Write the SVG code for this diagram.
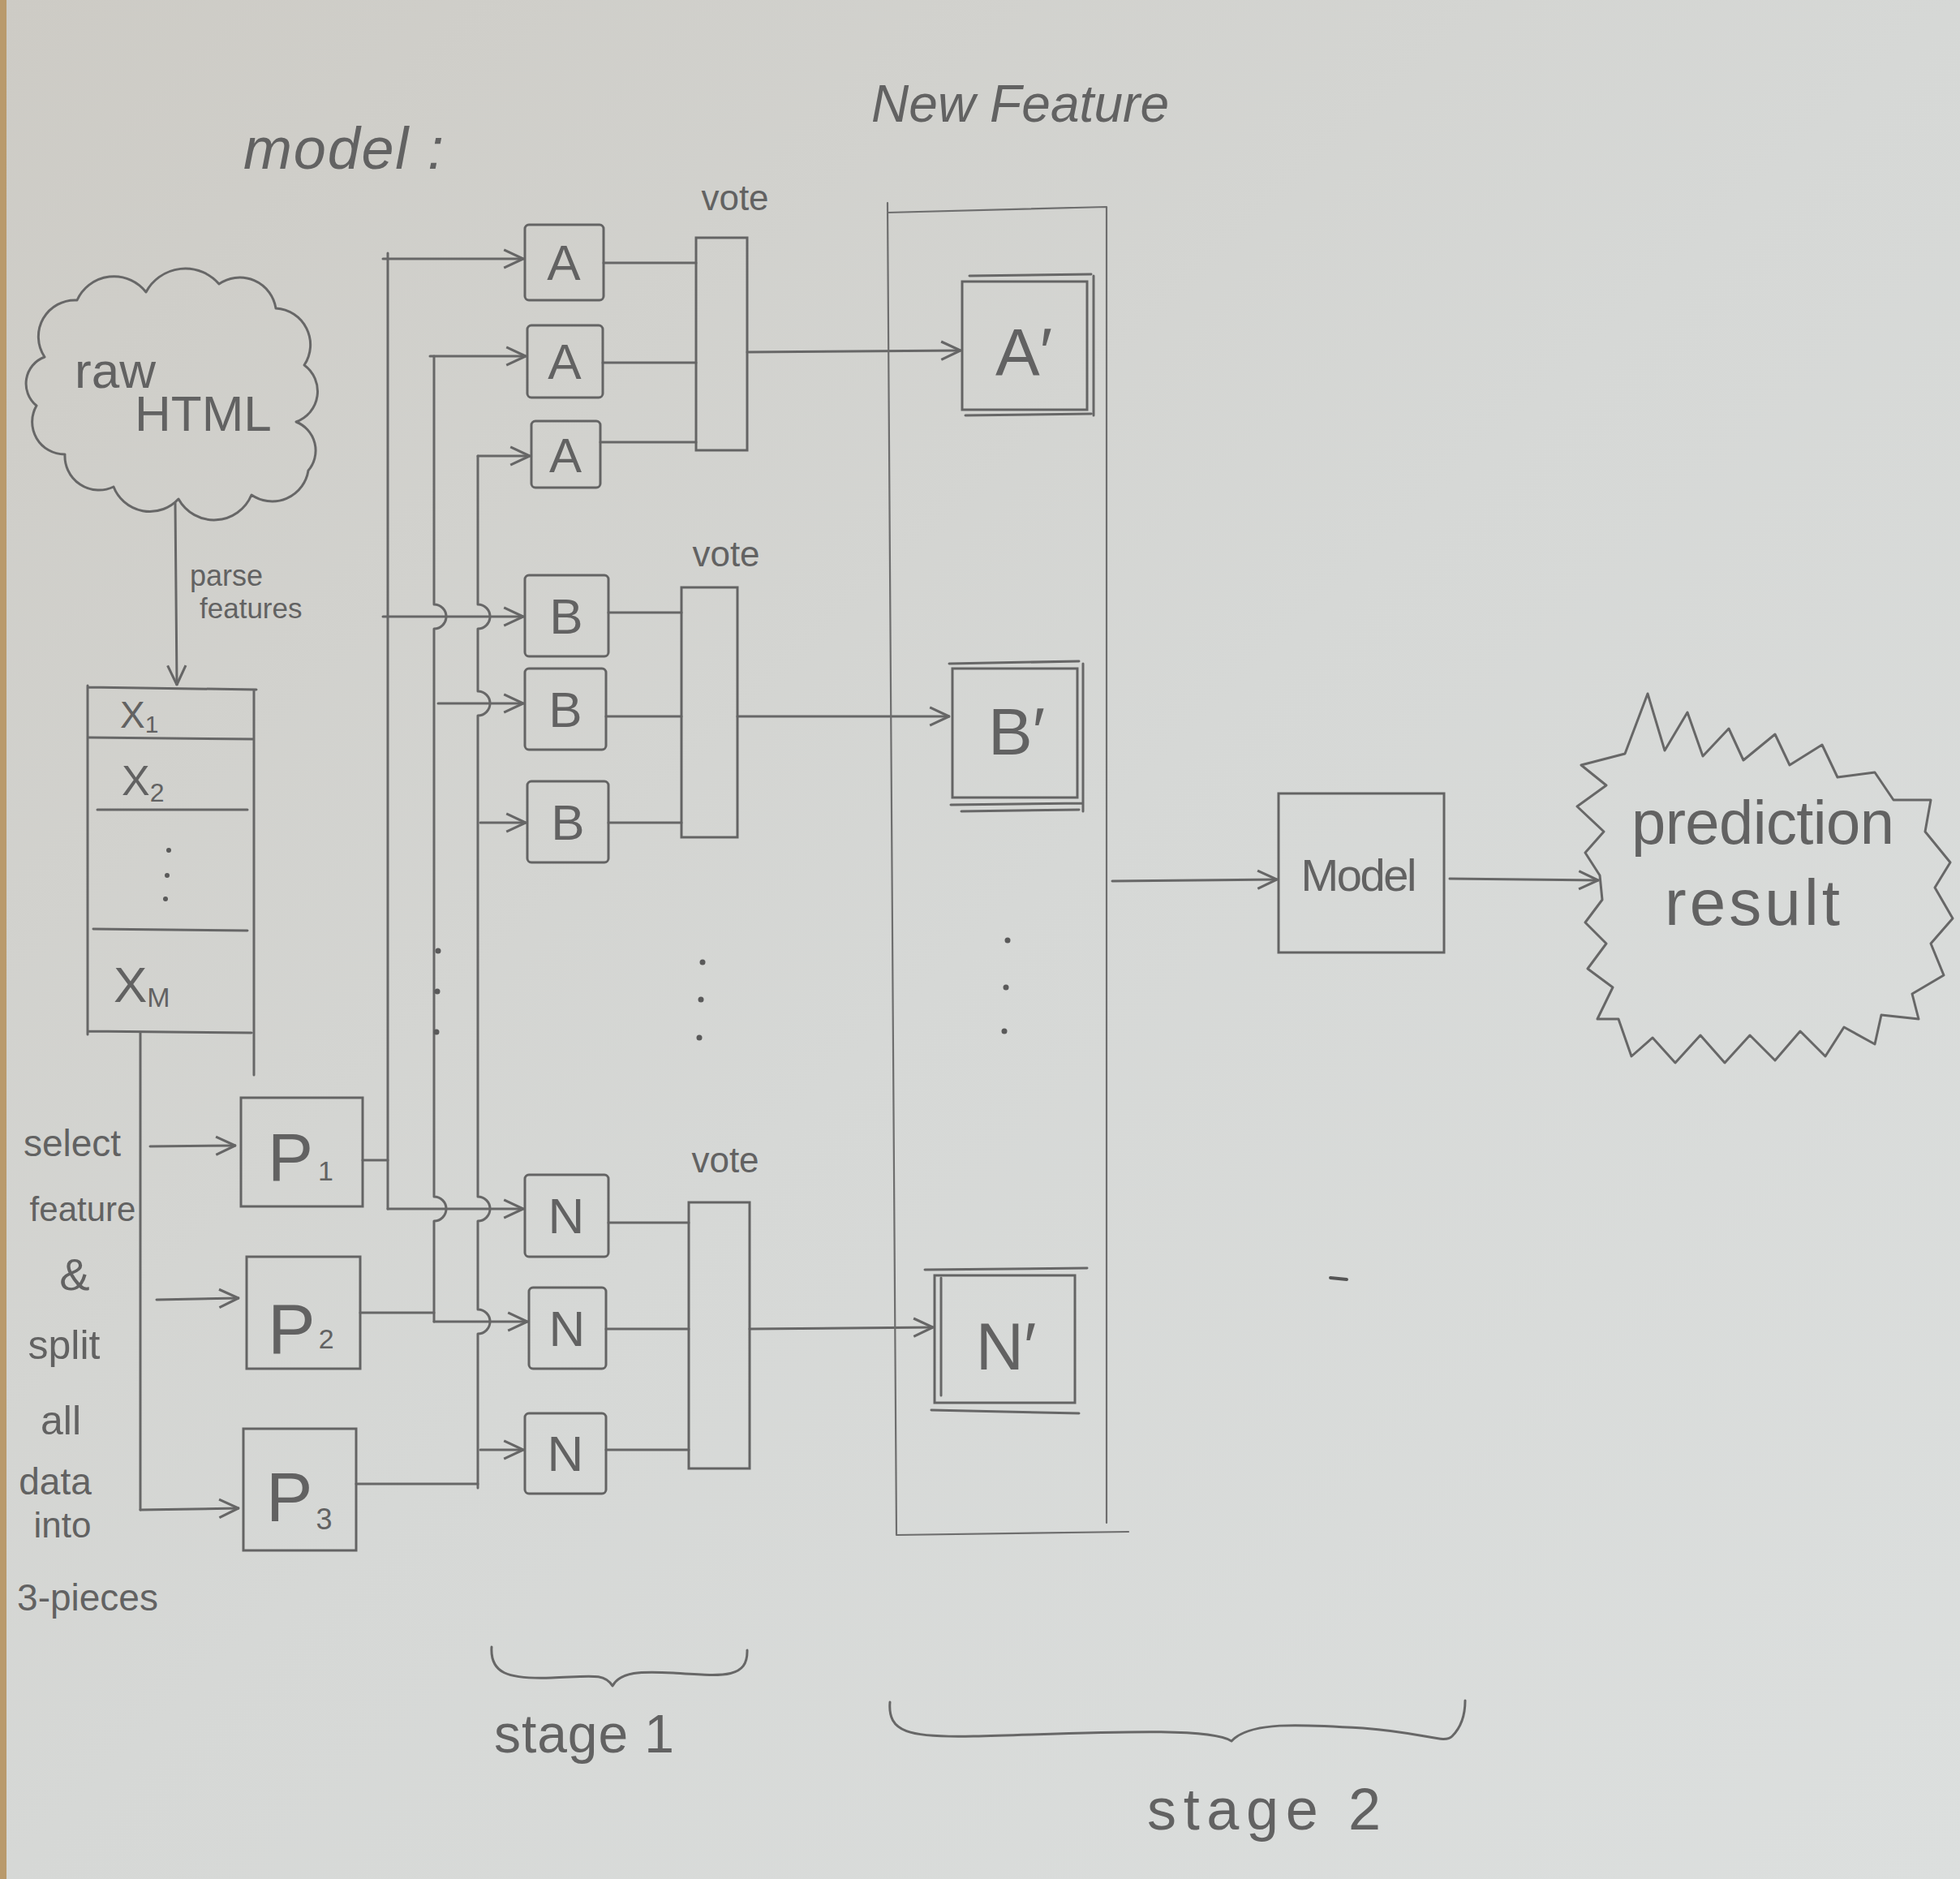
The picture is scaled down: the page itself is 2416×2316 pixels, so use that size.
<svg xmlns="http://www.w3.org/2000/svg" width="2416" height="2316" viewBox="0 0 2416 2316">
<defs>
<linearGradient id="paper" x1="0" y1="0" x2="1" y2="1">
<stop offset="0" stop-color="#cdcbc5"/>
<stop offset="0.5" stop-color="#d6d8d6"/>
<stop offset="1" stop-color="#dcdfde"/>
</linearGradient>
<marker id="arr" viewBox="0 0 20 20" refX="19" refY="10" markerWidth="28" markerHeight="28" markerUnits="userSpaceOnUse" orient="auto">
<path d="M2,2 L19,10 L2,18" fill="none" stroke="#666" stroke-width="2.2"/>
</marker>
</defs>
<style>
.ln{fill:none;stroke:#676767;stroke-width:3;stroke-linecap:round;stroke-linejoin:round}
.thin{fill:none;stroke:#6e6e6e;stroke-width:2.2;stroke-linecap:round}
.bx{fill:none;stroke:#646464;stroke-width:3}
.ar{marker-end:url(#arr)}
.t{font-family:"Liberation Sans",Arial,sans-serif;fill:#626262}
.tc{text-anchor:middle}
.dot{fill:#5a5a5a}
</style>
<rect width="2416" height="2316" fill="url(#paper)"/>
<rect x="0" y="0" width="8" height="2316" fill="#b99a6c"/>

<g id="titles">
<text class="t" x="300" y="208" font-size="72" font-style="italic" textLength="247">model :</text>
<text class="t" x="1074" y="150" font-size="64" font-style="italic" textLength="367">New Feature</text>
</g>

<g id="connectors">
<path class="ln ar" d="M216,620 L218,844"/>
<path class="ln" d="M173,1273 V1861"/>
<path class="ln ar" d="M173,1861 L294,1859"/>
<path class="ln ar" d="M185,1413 L290,1412"/>
<path class="ln ar" d="M193,1602 L294,1600"/>
<path class="ln" d="M447,1430 H478"/>
<path class="ln" d="M444,1618 H535"/>
<path class="ln" d="M439,1829 H589"/>
<path class="ln" d="M478,312 V1490"/>
<path class="ln ar" d="M472,319 H645"/>
<path class="ln ar" d="M472,760 H645"/>
<path class="ln ar" d="M478,1490 H645"/>
<path class="ln" d="M535,439 V745 A15,15 0 0 1 535,775 V1475 A15,15 0 0 1 535,1505 V1629"/>
<path class="ln ar" d="M530,439 H648"/>
<path class="ln ar" d="M540,867 H645"/>
<path class="ln ar" d="M535,1629 H650"/>
<path class="ln" d="M589,562 V745 A15,15 0 0 1 589,775 V852 A15,15 0 0 1 589,882 V1475 A15,15 0 0 1 589,1505 V1614 A15,15 0 0 1 589,1644 V1834"/>
<path class="ln ar" d="M589,562 H653"/>
<path class="ln ar" d="M592,1014 H648"/>
<path class="ln ar" d="M592,1787 H645"/>
<path class="ln" d="M744,324 H858 M743,447 H858 M740,545 H858"/>
<path class="ln" d="M750,755 H840 M747,883 H840 M750,1014 H840"/>
<path class="ln" d="M750,1507 H849 M747,1638 H849 M747,1787 H849"/>
<path class="ln ar" d="M921,434 L1184,432"/>
<path class="ln ar" d="M909,883 H1170"/>
<path class="ln ar" d="M924,1638 L1150,1636"/>
<path class="ln ar" d="M1371,1086 L1574,1084"/>
<path class="ln ar" d="M1787,1083 L1970,1085"/>
</g>

<g id="cloud-raw-html">
<path class="ln" d="M55,440 A45,45 0 0 1 95,370 A50,50 0 0 1 180,360 A55,55 0 0 1 270,350 A45,45 0 0 1 340,380 A45,45 0 0 1 375,450 A40,40 0 0 1 365,520 A38,38 0 0 1 380,580 A45,45 0 0 1 310,610 A50,50 0 0 1 220,615 A48,48 0 0 1 140,600 A42,42 0 0 1 80,560 A40,40 0 0 1 45,500 A35,35 0 0 1 55,440 Z"/>
<text class="t" x="92" y="478" font-size="62">raw</text>
<text class="t" x="166" y="531" font-size="62">HTML</text>
</g>

<g id="parse-label">
<text class="t" x="234" y="722" font-size="36">parse</text>
<text class="t" x="246" y="762" font-size="35">features</text>
</g>

<g id="feature-table">
<path class="ln" d="M108,847 L316,850 M108,845 V1275 M313,850 V1325 M110,909 L312,911 M120,998 L305,998 M115,1145 L305,1147 M108,1271 L310,1273"/>
<text class="t" x="148" y="897" font-size="46">X<tspan font-size="30" dy="6">1</tspan></text>
<text class="t" x="150" y="980" font-size="52">X<tspan font-size="32" dy="8">2</tspan></text>
<circle class="dot" cx="208" cy="1048" r="3"/>
<circle class="dot" cx="206" cy="1079" r="3"/>
<circle class="dot" cx="204" cy="1108" r="3"/>
<text class="t" x="140" y="1235" font-size="62">X<tspan font-size="34" dy="6">M</tspan></text>
</g>

<g id="split-label">
<text class="t tc" x="89" y="1425" font-size="46">select</text>
<text class="t tc" x="102" y="1505" font-size="42">feature</text>
<text class="t tc" x="92" y="1590" font-size="56">&amp;</text>
<text class="t tc" x="79" y="1675" font-size="50">split</text>
<text class="t tc" x="75" y="1768" font-size="50">all</text>
<text class="t tc" x="68" y="1842" font-size="46">data</text>
<text class="t tc" x="77" y="1895" font-size="44">into</text>
<text class="t tc" x="108" y="1985" font-size="46">3-pieces</text>
</g>

<g id="p1">
<rect class="bx" x="297" y="1353" width="150" height="134"/>
<text class="t" x="330" y="1455" font-size="84">P<tspan font-size="34" dx="6">1</tspan></text>
</g>
<g id="p2">
<rect class="bx" x="304" y="1549" width="140" height="138"/>
<text class="t" x="330" y="1668" font-size="88">P<tspan font-size="34" dx="4" dy="-6">2</tspan></text>
</g>
<g id="p3">
<rect class="bx" x="300" y="1761" width="139" height="150"/>
<text class="t" x="328" y="1875" font-size="86">P<tspan font-size="36" dx="4" dy="10">3</tspan></text>
</g>

<g id="a1"><rect class="bx" x="647" y="277" width="97" height="93" rx="5"/><text class="t tc" x="695" y="345" font-size="62">A</text></g>
<g id="a2"><rect class="bx" x="650" y="401" width="93" height="89" rx="5"/><text class="t tc" x="696" y="467" font-size="62">A</text></g>
<g id="a3"><rect class="bx" x="655" y="519" width="85" height="82" rx="5"/><text class="t tc" x="697" y="582" font-size="60">A</text></g>
<g id="b1"><rect class="bx" x="647" y="709" width="103" height="100" rx="5"/><text class="t tc" x="698" y="781" font-size="62">B</text></g>
<g id="b2"><rect class="bx" x="647" y="824" width="100" height="100" rx="5"/><text class="t tc" x="697" y="896" font-size="62">B</text></g>
<g id="b3"><rect class="bx" x="650" y="963" width="100" height="100" rx="5"/><text class="t tc" x="700" y="1035" font-size="62">B</text></g>
<g id="n1"><rect class="bx" x="647" y="1448" width="103" height="101" rx="5"/><text class="t tc" x="698" y="1520" font-size="62">N</text></g>
<g id="n2"><rect class="bx" x="652" y="1587" width="95" height="100" rx="5"/><text class="t tc" x="699" y="1659" font-size="62">N</text></g>
<g id="n3"><rect class="bx" x="647" y="1742" width="100" height="99" rx="5"/><text class="t tc" x="697" y="1813" font-size="62">N</text></g>

<g id="vote-a">
<rect class="bx" x="858" y="293" width="63" height="262"/>
<text class="t tc" x="906" y="259" font-size="44">vote</text>
</g>
<g id="vote-b">
<rect class="bx" x="840" y="724" width="69" height="308"/>
<text class="t tc" x="895" y="698" font-size="44">vote</text>
</g>
<g id="vote-n">
<rect class="bx" x="849" y="1482" width="75" height="328"/>
<text class="t tc" x="894" y="1445" font-size="44">vote</text>
</g>

<g id="stage1-dots">
<circle class="dot" cx="540" cy="1172" r="3.5"/>
<circle class="dot" cx="539" cy="1222" r="3.5"/>
<circle class="dot" cx="538" cy="1272" r="3.5"/>
<circle class="dot" cx="866" cy="1186" r="3.5"/>
<circle class="dot" cx="864" cy="1232" r="3.5"/>
<circle class="dot" cx="862" cy="1279" r="3.5"/>
</g>

<g id="new-feature-box">
<path class="thin" d="M1094,262 L1364,255 M1094,250 L1105,1892 M1364,255 V1877 M1105,1892 L1391,1888"/>
</g>
<g id="a-prime">
<rect class="bx" x="1186" y="347" width="154" height="158"/>
<path class="ln" d="M1195,340 L1345,338 M1348,340 V512 M1190,512 L1345,510"/>
<text class="t tc" x="1262" y="462" font-size="82">A′</text>
</g>
<g id="b-prime">
<rect class="bx" x="1174" y="824" width="154" height="159"/>
<path class="ln" d="M1170,818 L1330,815 M1335,818 V1000 M1172,992 L1335,990 M1185,1000 L1330,998"/>
<text class="t tc" x="1253" y="930" font-size="82">B′</text>
</g>
<g id="n-prime">
<rect class="bx" x="1152" y="1572" width="173" height="157"/>
<path class="ln" d="M1140,1565 L1340,1563 M1160,1575 V1720 M1148,1738 L1330,1742"/>
<text class="t tc" x="1240" y="1688" font-size="82">N′</text>
</g>
<g id="stage2-dots">
<circle class="dot" cx="1242" cy="1159" r="3.5"/>
<circle class="dot" cx="1240" cy="1217" r="3.5"/>
<circle class="dot" cx="1238" cy="1271" r="3.5"/>
<path d="M1640,1575 L1660,1577" stroke="#555" stroke-width="4" stroke-linecap="round"/>
</g>

<g id="model">
<rect class="bx" x="1576" y="978" width="204" height="196"/>
<text class="t tc" x="1675" y="1098" font-size="56" textLength="143">Model</text>
</g>

<g id="prediction-result">
<path class="ln" d="M1972,1079 L1954,1051 L1977,1025 L1944,994 L1980,968 L1949,943 L2003,929 L2031,855 L2052,925 L2080,878 L2099,932 L2131,898 L2149,937 L2188,905 L2206,943 L2246,918 L2265,958 L2311,952 L2334,986 L2380,986 L2373,1025 L2404,1063 L2385,1094 L2407,1132 L2380,1163 L2396,1202 L2357,1225 L2365,1256 L2319,1251 L2311,1287 L2273,1266 L2250,1302 L2219,1271 L2188,1307 L2157,1276 L2126,1310 L2096,1276 L2065,1310 L2037,1279 L2011,1302 L1995,1256 L1969,1256 L1988,1217 L1957,1194 L1980,1163 L1954,1137 L1975,1109 Z"/>
<text class="t tc" x="2173" y="1040" font-size="76" textLength="324">prediction</text>
<text class="t tc" x="2160" y="1140" font-size="80" textLength="216">result</text>
</g>

<g id="stage-labels">
<path class="ln" d="M606,2030 C604,2062 625,2070 680,2068 C730,2066 745,2062 755,2078 C765,2060 790,2060 830,2062 C890,2066 922,2070 921,2034"/>
<text class="t" x="609" y="2160" font-size="66" textLength="222">stage 1</text>
<path class="ln" d="M1097,2098 C1094,2135 1120,2142 1200,2140 C1350,2136 1490,2128 1518,2146 C1540,2122 1600,2125 1680,2130 C1760,2136 1780,2150 1790,2140 C1805,2125 1806,2105 1806,2096"/>
<text class="t" x="1414" y="2255" font-size="72" textLength="288">stage 2</text>
</g>
</svg>
